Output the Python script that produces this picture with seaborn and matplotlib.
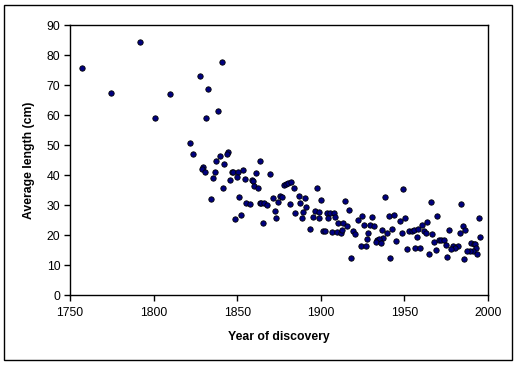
import numpy as np
import pandas as pd
import matplotlib
matplotlib.use('Agg')
import matplotlib.pyplot as plt
import seaborn as sns
from matplotlib.patches import Rectangle

# values
year = [1757.4, 1774.3, 1791.9, 1800.8, 1809.8, 1821.8, 1823.4, 1827.8, 1832.3, 1831.1,
        1838.7, 1840.7, 1844.7, 1843.7, 1839.9, 1837.5, 1842.3, 1863.4, 1829.7, 1828.8,
        1830.7, 1836.5, 1835.3, 1846.7, 1847.7, 1850.3, 1853.3, 1849.7, 1854.5, 1845.5,
        1861.4, 1858.6, 1859.4, 1860.0, 1862.3, 1841.3, 1834.3, 1851.3, 1855.4, 1857.7,
        1863.6, 1852.5, 1848.9, 1869.8, 1878.0, 1879.2, 1880.4, 1882.4, 1883.8, 1897.9,
        1871.4, 1875.4, 1876.6, 1886.7, 1890.3, 1900.3, 1864.2, 1866.2, 1867.8, 1874.6,
        1881.4, 1887.8, 1891.4, 1872.6, 1884.6, 1889.4, 1896.7, 1899.1, 1903.5, 1905.7,
        1907.9, 1873.4, 1888.9, 1895.1, 1898.9, 1904.5, 1865.6, 1893.7, 1901.5, 1902.7,
        1906.9, 1949.3, 1938.6, 1914.7, 1916.9, 1908.3, 1924.8, 1930.6, 1940.8, 1943.6,
        1947.5, 1950.5, 1910.3, 1913.5, 1915.7, 1922.2, 1925.8, 1929.4, 1931.6, 1909.5,
        1912.1, 1912.9, 1919.3, 1920.5, 1928.4, 1936.8, 1939.4, 1942.8, 1948.6, 1952.6,
        1927.4, 1937.4, 1945.0, 1933.4, 1934.8, 1932.8, 1936.0, 1923.9, 1927.0, 1951.7,
        1918.1, 1941.6, 1965.9, 1983.9, 1969.7, 1994.8, 1954.4, 1955.9, 1958.3, 1960.7,
        1963.5, 1961.9, 1963.1, 1966.3, 1957.5, 1976.5, 1983.0, 1985.0, 1986.4, 1970.5,
        1972.1, 1973.7, 1967.5, 1974.9, 1979.2, 1981.9, 1980.3, 1977.9, 1989.6, 1991.4,
        1992.4, 1995.4, 1992.6, 1990.8, 1989.0, 1987.4, 1993.6, 1956.3, 1959.3, 1968.7,
        1964.7, 1975.5, 1985.5]

avg_length = [75.6, 67.2, 84.3, 59.0, 67.0, 50.7, 46.9, 72.9, 68.8, 59.0,
              61.4, 77.6, 47.6, 47.0, 46.4, 44.6, 43.8, 44.6, 42.7, 42.0,
              40.9, 41.1, 39.1, 41.1, 41.1, 41.1, 41.8, 39.3, 38.8, 38.2,
              40.6, 38.3, 38.0, 36.4, 35.6, 35.7, 32.1, 32.6, 30.8, 30.3,
              30.6, 26.8, 25.3, 40.2, 36.6, 37.1, 37.4, 37.6, 35.6, 35.8,
              32.2, 33.0, 32.6, 33.0, 32.2, 31.8, 30.7, 30.8, 29.9, 31.1,
              30.2, 30.8, 29.4, 28.0, 27.3, 27.6, 28.1, 27.6, 27.2, 27.2,
              27.2, 25.7, 25.7, 26.1, 25.7, 25.7, 24.1, 21.9, 21.4, 21.4,
              21.1, 35.2, 32.6, 31.3, 28.3, 26.0, 26.3, 26.0, 26.3, 26.7,
              24.7, 25.6, 24.1, 24.1, 23.1, 24.9, 23.2, 23.2, 22.9, 21.0,
              20.6, 21.7, 21.3, 20.4, 20.6, 21.7, 20.7, 21.9, 20.6, 21.4,
              18.6, 19.0, 18.0, 18.3, 18.7, 17.6, 17.2, 16.3, 16.3, 15.3,
              12.2, 12.2, 30.9, 30.3, 26.4, 25.7, 21.3, 21.8, 22.0, 23.2,
              24.2, 21.3, 20.8, 20.2, 19.4, 21.6, 20.6, 22.9, 21.7, 18.3,
              18.3, 18.3, 17.6, 16.7, 16.4, 16.3, 15.8, 15.2, 17.2, 17.0,
              16.9, 19.2, 15.6, 14.6, 14.6, 14.6, 13.8, 15.8, 15.7, 15.0,
              13.7, 12.7, 11.9]

x_ticks = [1750, 1800, 1850, 1900, 1950, 2000]
y_ticks = [0, 10, 20, 30, 40, 50, 60, 70, 80, 90]


def make_plot() -> None:
    df = pd.DataFrame({'year': year, 'length': avg_length})

    sns.set_style('white')
    plt.rcParams['font.family'] = ['Liberation Sans', 'DejaVu Sans']
    for key in ['text.color', 'axes.labelcolor', 'xtick.color', 'ytick.color']:
        plt.rcParams[key] = 'black'

    fig = plt.figure(figsize=(5.2, 3.66), dpi=100)
    ax = fig.add_axes([70 / 520, 1 - 295 / 366, 418 / 520, 270 / 366])

    sns.scatterplot(data=df, x='year', y='length', ax=ax,
                    color='#000080', edgecolor='black', linewidth=0.6,
                    s=15, legend=False)

    ax.set_xlim(1750, 2000)
    ax.set_ylim(0, 90)
    ax.set_xticks(x_ticks)
    ax.set_yticks(y_ticks)
    ax.tick_params(direction='out', length=4, width=1, colors='black',
                   labelsize=8.8, pad=3, bottom=True, left=True)
    ax.tick_params(axis='x', pad=5)
    for sp in ax.spines.values():
        sp.set_color('black')
        sp.set_linewidth(1)

    ax.set_xlabel('Year of discovery', fontsize=8.8, fontweight='bold', labelpad=8)
    ax.set_ylabel('Average length (cm)', fontsize=8.8, fontweight='bold', labelpad=8)

    # outer chart border like the spreadsheet chart area
    fig.patches.append(Rectangle((4 / 520, 1 - 360 / 366), 508 / 520, 355 / 366,
                                 transform=fig.transFigure, fill=False,
                                 edgecolor='black', linewidth=1))

    fig.savefig('out.png', dpi=100)


if __name__ == '__main__':
    make_plot()
